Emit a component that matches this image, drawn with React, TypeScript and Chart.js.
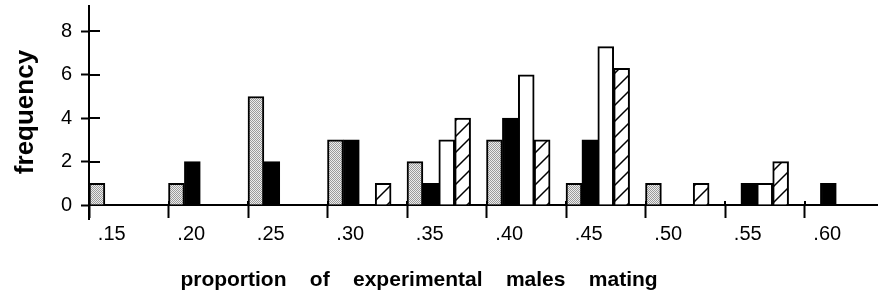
import React, { useEffect, useRef } from 'react';
import { Chart, registerables } from 'chart.js';

Chart.register(...registerables);

// ---- data ----
const categories = ['.15', '.20', '.25', '.30', '.35', '.40', '.45', '.50', '.55', '.60'];
const stippledSeries = [1, 1, 5, 3, 2, 3, 1, 1, 0, 0];
const blackSeries = [0, 2, 2, 3, 1, 4, 3, 0, 1, 1];
const whiteSeries = [0, 0, 0, 0, 3, 6, 7.3, 0, 1, 0];
const hatchedSeries = [0, 0, 0, 1, 4, 3, 6.3, 1, 2, 0];
const spacerSeries = [0, 0, 0, 0, 0, 0, 0, 0, 0, 0];
const yTickValues = [0, 2, 4, 6, 8];
const yMax = 9.17;
const xTitle = 'proportion    of    experimental    males    mating';
const yTitle = 'frequency';

const FONT = '"Liberation Sans", Arial, Helvetica, sans-serif';

function makeStipple(): CanvasPattern | string {
  const c = document.createElement('canvas');
  c.width = 2;
  c.height = 2;
  const g = c.getContext('2d');
  if (!g) return '#c8c8c8';
  g.fillStyle = '#ececec';
  g.fillRect(0, 0, 2, 2);
  g.fillStyle = '#9a9a9a';
  g.fillRect(0, 0, 1, 1);
  g.fillRect(1, 1, 1, 1);
  return g.createPattern(c, 'repeat') || '#c8c8c8';
}

function makeHatch(): CanvasPattern | string {
  const s = 16;
  const c = document.createElement('canvas');
  c.width = s;
  c.height = s;
  const g = c.getContext('2d');
  if (!g) return '#fff';
  g.fillStyle = '#fff';
  g.fillRect(0, 0, s, s);
  g.strokeStyle = '#000';
  g.lineWidth = 1.5;
  g.beginPath();
  g.moveTo(0, s);
  g.lineTo(s, 0);
  g.moveTo(-2, 2);
  g.lineTo(2, -2);
  g.moveTo(s - 2, s + 2);
  g.lineTo(s + 2, s - 2);
  g.stroke();
  return g.createPattern(c, 'repeat') || '#fff';
}

const decorations = {
  id: 'decorations',
  afterDraw(chart: any) {
    const { ctx, chartArea, scales } = chart;
    const xs = scales.x;
    const ys = scales.y;
    ctx.save();
    ctx.strokeStyle = '#000';
    ctx.lineWidth = 2;
    ctx.beginPath();
    yTickValues.forEach((v) => {
      if (v === 0) return;
      const py = Math.round(ys.getPixelForValue(v));
      ctx.moveTo(chartArea.left, py);
      ctx.lineTo(chartArea.left + 11, py);
    });
    const step = xs.getPixelForValue(1) - xs.getPixelForValue(0);
    for (let i = 0; i <= categories.length; i++) {
      const px = Math.round(xs.getPixelForValue(i) - step / 2);
      ctx.moveTo(px, chartArea.bottom - 4);
      ctx.lineTo(px, chartArea.bottom);
    }
    ctx.moveTo(chartArea.left, chartArea.bottom);
    ctx.lineTo(chartArea.left, chartArea.bottom + 15);
    ctx.stroke();

    ctx.fillStyle = '#000';
    ctx.textAlign = 'center';
    ctx.textBaseline = 'alphabetic';
    ctx.font = `bold 21px ${FONT}`;
    ctx.fillText(xTitle, chartArea.left + 330, chartArea.bottom + 81);

    ctx.translate(33, 112);
    ctx.rotate(-Math.PI / 2);
    ctx.font = `bold 26px ${FONT}`;
    ctx.fillText(yTitle, 0, 0);
    ctx.restore();
  },
};

export default function App() {
  const ref = useRef<HTMLCanvasElement | null>(null);

  useEffect(() => {
    const canvas = ref.current;
    if (!canvas) return;
    Chart.defaults.font.family = FONT;
    Chart.defaults.color = '#000';
    const stipple = makeStipple();
    const hatch = makeHatch();
    const bw = { top: 2, left: 2, right: 2, bottom: 0 };
    const chart = new Chart(canvas, {
      type: 'bar',
      data: {
        labels: categories,
        datasets: [
          { data: stippledSeries, backgroundColor: stipple as any, borderColor: '#000', borderWidth: bw },
          { data: blackSeries, backgroundColor: '#000', borderColor: '#000', borderWidth: bw },
          { data: whiteSeries, backgroundColor: '#fff', borderColor: '#000', borderWidth: bw },
          { data: hatchedSeries, backgroundColor: hatch as any, borderColor: '#000', borderWidth: bw },
          { data: spacerSeries, backgroundColor: 'rgba(0,0,0,0)', borderWidth: 0 },
        ],
      },
      options: {
        responsive: false,
        animation: false,
        devicePixelRatio: 1,
        layout: { padding: { left: 0, right: 6, top: 6, bottom: 0 } },
        datasets: { bar: { categoryPercentage: 1, barPercentage: 1 } },
        plugins: { legend: { display: false }, tooltip: { enabled: false } },
        scales: {
          x: {
            type: 'category',
            offset: true,
            grid: {
              offset: true,
              drawOnChartArea: false,
              drawTicks: true,
              tickLength: 13,
              tickWidth: 2,
              tickColor: '#000',
            },
            border: { color: '#000', width: 2 },
            ticks: {
              color: '#000',
              font: { size: 20, family: FONT },
              padding: 4,
              labelOffset: -17,
              maxRotation: 0,
              autoSkip: false,
            },
            afterFit: (s: any) => {
              s.height = 90;
              s.paddingLeft = 0;
              s.paddingRight = 0;
            },
          },
          y: {
            min: 0,
            max: yMax,
            afterBuildTicks: (s: any) => {
              s.ticks = yTickValues.map((v) => ({ value: v }));
            },
            grid: {
              drawOnChartArea: false,
              drawTicks: true,
              tickLength: 8,
              tickWidth: 2,
              tickColor: '#000',
            },
            border: { color: '#000', width: 2 },
            ticks: { color: '#000', font: { size: 20, family: FONT }, padding: 9 },
            afterFit: (s: any) => {
              s.width = 89;
              s.paddingTop = 0;
              s.paddingBottom = 0;
            },
          },
        },
      },
      plugins: [decorations],
    } as any);
    return () => chart.destroy();
  }, []);

  return (
    <div
      style={{
        position: 'absolute',
        left: 0,
        top: 0,
        width: 878,
        height: 295,
        overflow: 'hidden',
        background: '#fff',
      }}
    >
      <canvas ref={ref} width={890} height={295} style={{ display: 'block', width: 890, height: 295 }} />
    </div>
  );
}
